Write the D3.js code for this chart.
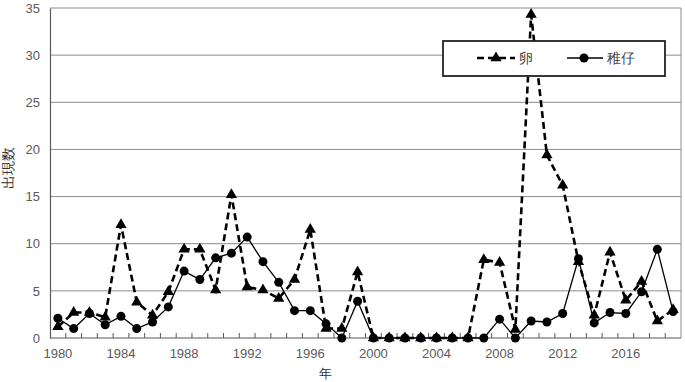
<!DOCTYPE html>
<html>
<head>
<meta charset="utf-8">
<script src="https://cdn.jsdelivr.net/npm/d3@7"></script>
<style>
  body { margin: 0; background: #fff; }
  .canvas text { font-family: "Liberation Sans", Arial, sans-serif; }
  .jp { font-family: "Noto Sans CJK JP", sans-serif; }
</style>
</head>
<body>
<div class="canvas"></div>
<script>
// Data
const years = d3.range(1980, 2020);
const eggs = [1.2, 2.7, 2.7, 2.2, 12.0, 3.8, 2.4, 4.9, 9.4, 9.4,
  5.1, 15.2, 5.4, 5.1, 4.2, 6.2, 11.5, 1.0, 1.0, 7.0,
  0, 0, 0, 0, 0, 0, 0, 8.3, 8.0, 0.9,
  34.3, 19.4, 16.2, 8.1, 2.4, 9.1, 4.0, 6.0, 1.8, 3.0];
const larvae = [2.1, 1.0, 2.6, 1.4, 2.3, 1.0, 1.7, 3.3, 7.1, 6.2,
  8.5, 9.0, 10.7, 8.1, 5.9, 2.9, 2.9, 1.5, 0, 3.9,
  0, 0, 0, 0, 0, 0, 0, 0, 2.0, 0,
  1.8, 1.7, 2.6, 8.4, 1.6, 2.7, 2.6, 4.9, 9.4, 2.8];
const yTicks = [0, 5, 10, 15, 20, 25, 30, 35];
const xLabels = [1980, 1984, 1988, 1992, 1996, 2000, 2004, 2008, 2012, 2016];
const seriesNames = ['卵', '稚仔'];

// Setup dimensions
const dims = { width: 685, height: 382 };
const plot = { left: 50, right: 681, top: 8, bottom: 338 };

const svg = d3.select('.canvas')
  .append('svg')
  .attr('width', dims.width)
  .attr('height', dims.height);

const x = d3.scaleBand()
  .domain(years)
  .range([plot.left, plot.right]);

const y = d3.scaleLinear()
  .domain([0, 35])
  .range([plot.bottom, plot.top]);

// gridlines
svg.append('g')
  .selectAll('line')
  .data(yTicks.slice(1))
  .enter().append('line')
    .attr('x1', plot.left).attr('x2', plot.right)
    .attr('y1', d => y(d)).attr('y2', d => y(d))
    .attr('stroke', '#8c8c8c')
    .attr('stroke-width', 1);

// plot border (right side)
svg.append('line')
  .attr('x1', plot.right).attr('x2', plot.right)
  .attr('y1', plot.top).attr('y2', plot.bottom)
  .attr('stroke', '#8c8c8c');

// y axis
const yAxis = d3.axisLeft(y)
  .tickValues(yTicks)
  .tickSize(0)
  .tickPadding(10);

const yG = svg.append('g')
  .attr('transform', `translate(${plot.left}, 0)`)
  .call(yAxis);
yG.select('.domain').attr('stroke', '#595959').attr('stroke-width', 1.2);
yG.selectAll('text')
  .attr('font-size', 13)
  .attr('fill', '#5a5a5a')
  .style('font-family', '"Liberation Sans", Arial, sans-serif');

// x axis: category-boundary ticks pointing up
const xG = svg.append('g')
  .attr('transform', `translate(0, ${plot.bottom})`);
xG.append('line')
  .attr('x1', plot.left).attr('x2', plot.right)
  .attr('stroke', '#595959')
  .attr('stroke-width', 1.2);
xG.selectAll('.tick')
  .data(years.slice(1))
  .enter().append('line')
    .attr('class', 'tick')
    .attr('x1', d => x(d)).attr('x2', d => x(d))
    .attr('y1', 0).attr('y2', -5)
    .attr('stroke', '#595959');
xG.selectAll('.lbl')
  .data(xLabels)
  .enter().append('text')
    .attr('class', 'lbl')
    .attr('x', d => x(d) + x.bandwidth() / 2)
    .attr('y', 20)
    .attr('text-anchor', 'middle')
    .attr('font-size', 13)
    .attr('fill', '#5a5a5a')
    .text(d => d);

// axis titles
svg.append('text')
  .attr('class', 'jp')
  .attr('transform', `translate(13, 168) rotate(-90)`)
  .attr('text-anchor', 'middle')
  .attr('font-size', 14)
  .attr('fill', '#333')
  .text('出現数');

svg.append('text')
  .attr('class', 'jp')
  .attr('x', 325)
  .attr('y', 378)
  .attr('text-anchor', 'middle')
  .attr('font-size', 13)
  .attr('fill', '#333')
  .text('年');

const cx = (d, i) => x(years[i]) + x.bandwidth() / 2;

const line = d3.line()
  .x(cx)
  .y(d => y(d));

const graph = svg.append('g');

// 稚仔: solid line with circles
graph.append('path')
  .attr('d', line(larvae))
  .attr('fill', 'none')
  .attr('stroke', '#000')
  .attr('stroke-width', 1.3);
graph.selectAll('circle')
  .data(larvae)
  .enter().append('circle')
    .attr('cx', cx)
    .attr('cy', d => y(d))
    .attr('r', 4.5)
    .attr('fill', '#000');

// 卵: dashed line with triangles
graph.append('path')
  .attr('d', line(eggs))
  .attr('fill', 'none')
  .attr('stroke', '#000')
  .attr('stroke-width', 2.6)
  .attr('stroke-dasharray', '7,4');

const tri = d3.symbol().type(d3.symbolTriangle).size(55);
graph.selectAll('.tri')
  .data(eggs)
  .enter().append('path')
    .attr('class', 'tri')
    .attr('d', tri)
    .attr('transform', (d, i) => `translate(${cx(d, i)}, ${y(d)})`)
    .attr('fill', '#000');

// legend
const legendGroup = svg.append('g')
  .attr('transform', 'translate(443, 41)');
legendGroup.append('rect')
  .attr('width', 222)
  .attr('height', 35)
  .attr('fill', '#fff')
  .attr('stroke', '#222')
  .attr('stroke-width', 1.8);

const ly = 17;
legendGroup.append('line')
  .attr('x1', 34).attr('x2', 72)
  .attr('y1', ly).attr('y2', ly)
  .attr('stroke', '#000')
  .attr('stroke-width', 2.6)
  .attr('stroke-dasharray', '7,4');
legendGroup.append('path')
  .attr('d', tri)
  .attr('transform', `translate(53, ${ly})`);
legendGroup.append('text')
  .attr('class', 'jp')
  .attr('x', 76).attr('y', ly + 5)
  .attr('font-size', 14)
  .attr('fill', '#444')
  .text(seriesNames[0]);

legendGroup.append('line')
  .attr('x1', 124).attr('x2', 160)
  .attr('y1', ly).attr('y2', ly)
  .attr('stroke', '#000')
  .attr('stroke-width', 1.3);
legendGroup.append('circle')
  .attr('cx', 141).attr('cy', ly)
  .attr('r', 4.5);
legendGroup.append('text')
  .attr('class', 'jp')
  .attr('x', 164).attr('y', ly + 5)
  .attr('font-size', 14)
  .attr('fill', '#444')
  .text(seriesNames[1]);
</script>
</body>
</html>
